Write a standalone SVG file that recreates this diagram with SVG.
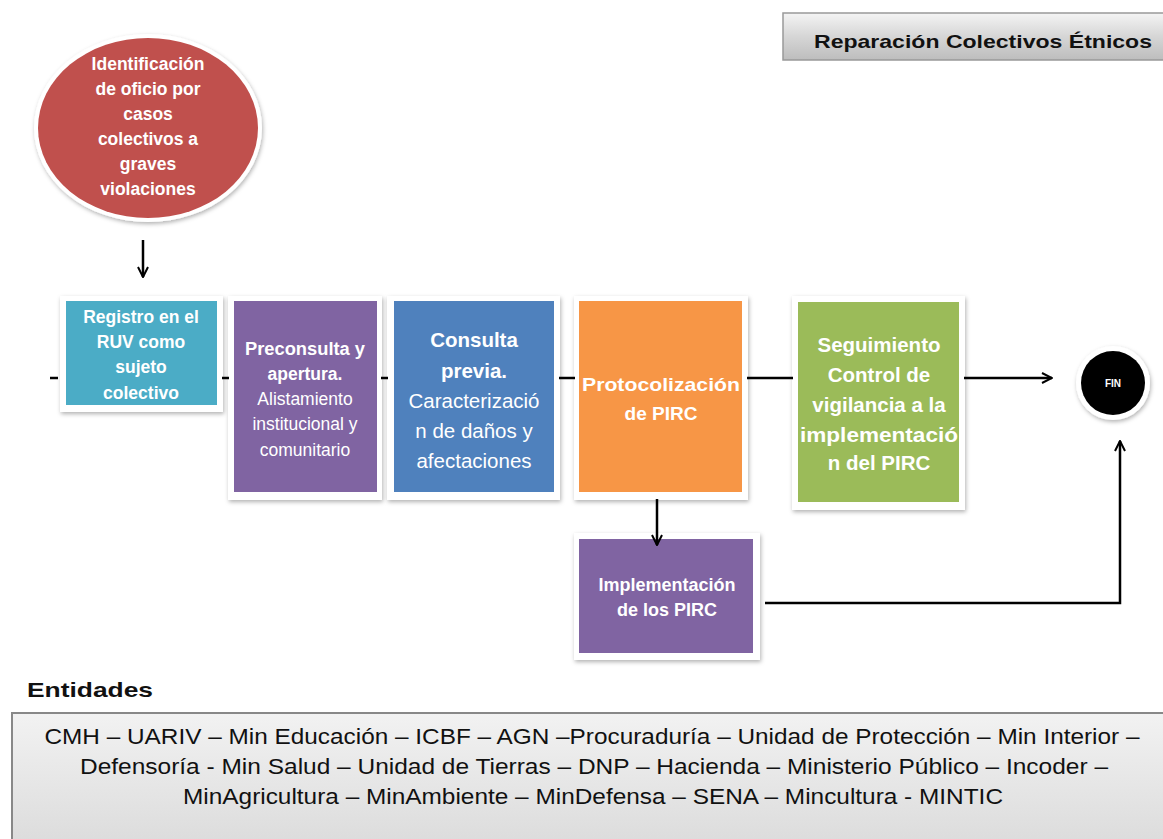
<svg xmlns="http://www.w3.org/2000/svg" width="1163" height="839" viewBox="0 0 1163 839">
<defs>
<filter id="sh" x="-10%" y="-10%" width="125%" height="125%">
<feDropShadow dx="1" dy="2" stdDeviation="2" flood-color="#000" flood-opacity="0.3"/>
</filter>
<linearGradient id="gTitle" x1="0" y1="0" x2="0" y2="1">
<stop offset="0" stop-color="#f4f4f4"/>
<stop offset="0.5" stop-color="#d6d6d6"/>
<stop offset="1" stop-color="#bdbdbd"/>
</linearGradient>
<linearGradient id="gBox" x1="0" y1="0" x2="0" y2="1">
<stop offset="0" stop-color="#f2f2f2"/>
<stop offset="1" stop-color="#dcdcdc"/>
</linearGradient>
<marker id="arr" viewBox="0 0 12 12" refX="11" refY="6" markerWidth="12" markerHeight="12" markerUnits="userSpaceOnUse" orient="auto">
<path d="M1,1 L11,6 L1,11" fill="none" stroke="#000" stroke-width="2"/>
</marker>
</defs>
<style>
.frame{fill:#fff;filter:url(#sh)}
.t{font-family:"Liberation Sans",Arial,sans-serif;fill:#fff;text-anchor:middle}
.b{font-weight:bold}
.c{fill:none;stroke:#000;stroke-width:2.5}
</style>
<rect width="1163" height="839" fill="#fff"/>

<g id="title">
<rect x="783" y="13" width="385" height="47" fill="url(#gTitle)" stroke="#999" stroke-width="1.5"/>
<text x="983" y="48" font-family="Liberation Sans,Arial,sans-serif" font-weight="bold" font-size="19" fill="#111" text-anchor="middle" textLength="338" lengthAdjust="spacingAndGlyphs">Reparación Colectivos Étnicos</text>
</g>

<g id="n-ident">
<ellipse cx="148" cy="128" rx="114" ry="94" fill="#fff" filter="url(#sh)"/>
<ellipse cx="148" cy="128" rx="110" ry="90" fill="#C0504D"/>
<text class="t b" font-size="17.5"><tspan x="148" y="70">Identificación</tspan><tspan x="148" y="95">de oficio por</tspan><tspan x="148" y="120">casos</tspan><tspan x="148" y="145">colectivos a</tspan><tspan x="148" y="170">graves</tspan><tspan x="148" y="195">violaciones</tspan></text>
</g>

<g id="n-registro">
<rect class="frame" x="60" y="296" width="163" height="116"/>
<rect x="66" y="301" width="151" height="104" fill="#4BACC6"/>
<text class="t b" font-size="17.5"><tspan x="141" y="323">Registro en el</tspan><tspan x="141" y="348">RUV como</tspan><tspan x="141" y="373">sujeto</tspan><tspan x="141" y="399">colectivo</tspan></text>
</g>

<g id="n-preconsulta">
<rect class="frame" x="228" y="296" width="154" height="204"/>
<rect x="234" y="301" width="143" height="191" fill="#8064A2"/>
<text class="t" font-size="17.5"><tspan class="b" x="305" y="355" textLength="120" lengthAdjust="spacingAndGlyphs">Preconsulta y</tspan><tspan class="b" x="305" y="380">apertura.</tspan><tspan x="305" y="405">Alistamiento</tspan><tspan x="305" y="430">institucional y</tspan><tspan x="305" y="456">comunitario</tspan></text>
</g>

<g id="n-consulta">
<rect class="frame" x="387" y="296" width="173" height="204"/>
<rect x="394" y="301" width="160" height="191" fill="#4F81BD"/>
<text class="t" font-size="20.5"><tspan class="b" x="474" y="347">Consulta</tspan><tspan class="b" x="474" y="378">previa.</tspan><tspan x="474" y="408">Caracterizació</tspan><tspan x="474" y="438">n de daños y</tspan><tspan x="474" y="468">afectaciones</tspan></text>
</g>

<g id="n-protocol">
<rect class="frame" x="574" y="296" width="174" height="204"/>
<rect x="579" y="301" width="163" height="191" fill="#F79646"/>
<text class="t b" font-size="19"><tspan x="661" y="391" textLength="158" lengthAdjust="spacingAndGlyphs">Protocolización</tspan><tspan x="661" y="420">de PIRC</tspan></text>
</g>

<g id="n-seguimiento">
<rect class="frame" x="792" y="296" width="173" height="214"/>
<rect x="798" y="302" width="161" height="200" fill="#9BBB59"/>
<text class="t b" font-size="20.5"><tspan x="879" y="352">Seguimiento</tspan><tspan x="879" y="382">Control de</tspan><tspan x="879" y="412">vigilancia a la</tspan><tspan x="879" y="442" textLength="158" lengthAdjust="spacingAndGlyphs">implementació</tspan><tspan x="879" y="470">n del PIRC</tspan></text>
</g>

<g id="n-implementacion">
<rect class="frame" x="574" y="533" width="186" height="127"/>
<rect x="579" y="539" width="174" height="114" fill="#8064A2"/>
<text class="t b" font-size="18"><tspan x="667" y="591">Implementación</tspan><tspan x="667" y="616">de los PIRC</tspan></text>
</g>

<g id="n-fin">
<circle cx="1113" cy="383" r="37" fill="#fff" filter="url(#sh)"/>
<circle cx="1113" cy="383" r="32" fill="#000"/>
<text class="t b" x="1113" y="387" font-size="10">FIN</text>
</g>

<g id="connectors">
<line class="c" x1="50" y1="378" x2="58" y2="378"/>
<line class="c" x1="222" y1="378" x2="229" y2="378"/>
<line class="c" x1="381" y1="378" x2="388" y2="378"/>
<line class="c" x1="559" y1="378" x2="575" y2="378"/>
<line class="c" x1="747" y1="378" x2="793" y2="378"/>
<line class="c" x1="964" y1="378" x2="1052" y2="378" marker-end="url(#arr)"/>
<line class="c" x1="143" y1="240" x2="143" y2="277" marker-end="url(#arr)"/>
<line class="c" x1="657" y1="499" x2="657" y2="545" marker-end="url(#arr)"/>
<polyline class="c" points="765,603 1120,603 1120,441" marker-end="url(#arr)"/>
</g>

<g id="entidades">
<text x="27" y="697" font-family="Liberation Sans,Arial,sans-serif" font-weight="bold" font-size="21" fill="#111" textLength="126" lengthAdjust="spacingAndGlyphs">Entidades</text>
<rect x="12" y="713" width="1160" height="130" fill="url(#gBox)" stroke="#888" stroke-width="2"/>
<text font-family="Liberation Sans,Arial,sans-serif" font-size="22" fill="#111" text-anchor="middle"><tspan x="592" y="744" textLength="1095" lengthAdjust="spacingAndGlyphs">CMH – UARIV – Min Educación – ICBF – AGN –Procuraduría – Unidad de Protección – Min Interior –</tspan><tspan x="594" y="774" textLength="1028" lengthAdjust="spacingAndGlyphs">Defensoría -  Min Salud – Unidad de Tierras – DNP – Hacienda – Ministerio Público – Incoder –</tspan><tspan x="593" y="804" textLength="820" lengthAdjust="spacingAndGlyphs">MinAgricultura – MinAmbiente – MinDefensa – SENA – Mincultura - MINTIC</tspan></text>
</g>
</svg>
